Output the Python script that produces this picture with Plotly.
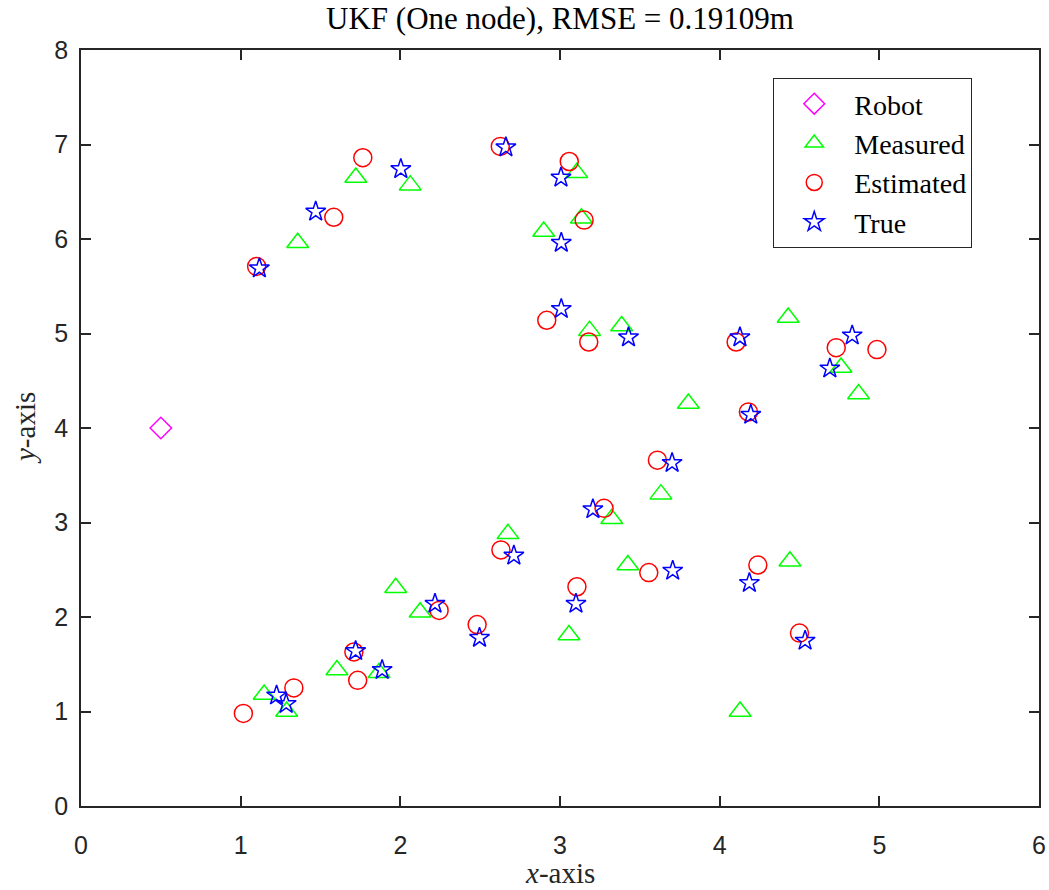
import plotly.graph_objects as go

robot_x = [0.5]
robot_y = [4.0]

true_x = [1.117, 1.470, 2.003, 2.661, 3.006, 3.008, 3.008, 3.429, 4.127, 4.830, 4.690, 4.195, 3.702,
          3.206, 2.711, 3.100, 3.706, 4.186, 4.535, 1.225, 1.285, 1.720, 1.886, 2.217, 2.496]
true_y = [5.69, 6.29, 6.74, 6.97, 6.65, 5.96, 5.26, 4.96, 4.96, 4.98, 4.63, 4.14, 3.63,
          3.14, 2.65, 2.14, 2.49, 2.36, 1.75, 1.17, 1.08, 1.64, 1.44, 2.14, 1.78]

meas_x = [1.357, 1.721, 2.062, 2.898, 3.105, 3.134, 3.185, 3.386, 4.429, 4.760, 4.870, 3.804, 3.632,
          3.324, 2.674, 3.056, 3.425, 4.440, 4.128, 1.147, 1.288, 1.603, 1.867, 1.971, 2.124]
meas_y = [5.96, 6.65, 6.57, 6.08, 6.70, 6.22, 5.03, 5.08, 5.17, 4.64, 4.36, 4.26, 3.30,
          3.04, 2.88, 1.81, 2.55, 2.59, 1.00, 1.18, 1.00, 1.44, 1.41, 2.31, 2.05]

est_x = [1.100, 1.583, 1.765, 2.626, 3.058, 3.151, 2.917, 3.180, 4.103, 4.730, 4.985, 4.180, 3.610,
         3.276, 2.630, 3.106, 3.556, 4.239, 4.500, 1.017, 1.333, 1.709, 1.733, 2.243, 2.481]
est_y = [5.71, 6.23, 6.86, 6.98, 6.82, 6.20, 5.14, 4.91, 4.91, 4.85, 4.83, 4.17, 3.66,
         3.15, 2.71, 2.32, 2.47, 2.55, 1.83, 0.98, 1.25, 1.63, 1.33, 2.07, 1.92]

x_ticks = [0, 1, 2, 3, 4, 5, 6]
y_ticks = [0, 1, 2, 3, 4, 5, 6, 7, 8]

title_text = "UKF (One node), RMSE = 0.19109m"
x_title = "<i>x</i>-axis"
y_title = "<i>y</i>-axis"

SERIF = "Liberation Serif, Times New Roman, serif"
SANS = "Liberation Sans, Arial, sans-serif"
AX = "#262626"

fig = go.Figure()
fig.add_trace(go.Scatter(x=robot_x, y=robot_y, mode="markers", name="Robot",
                         marker=dict(symbol="diamond-open", size=16.5, color="#FF00FF",
                                     line=dict(width=1.5, color="#FF00FF"))))
fig.add_trace(go.Scatter(x=meas_x, y=meas_y, mode="markers", name="Measured",
                         marker=dict(symbol="triangle-up-open", size=19, color="#00FF00",
                                     line=dict(width=1.5, color="#00FF00"))))
fig.add_trace(go.Scatter(x=est_x, y=est_y, mode="markers", name="Estimated",
                         marker=dict(symbol="circle-open", size=18, color="#FF0000",
                                     line=dict(width=1.5, color="#FF0000"))))
fig.add_trace(go.Scatter(x=true_x, y=true_y, mode="markers", name="True",
                         marker=dict(symbol="star-open", size=15, color="#0000FF",
                                     line=dict(width=1.5, color="#0000FF"))))

axis_common = dict(showline=True, linecolor=AX, linewidth=1.5, mirror="ticks",
                   ticks="inside", ticklen=10, tickwidth=1.5, tickcolor=AX,
                   showgrid=False, zeroline=False, automargin=False,
                   tickfont=dict(family=SANS, size=25, color=AX))

fig.update_layout(
    width=1049, height=890,
    margin=dict(l=81, r=10, t=50, b=84, autoexpand=False),
    paper_bgcolor="white", plot_bgcolor="white",
    title=dict(text=title_text, x=0.5, xref="paper", xanchor="center",
               y=1, yref="paper", yanchor="bottom", pad=dict(b=21),
               font=dict(family=SERIF, size=31, color="black")),
    xaxis=dict(range=[0, 6], tickvals=x_ticks, ticktext=[str(v) for v in x_ticks],
               ticklabelstandoff=16, **axis_common),
    yaxis=dict(range=[0, 8], tickvals=y_ticks, ticktext=[str(v) for v in y_ticks],
               ticklabelstandoff=6, **axis_common),
    legend=dict(x=0.7226, y=0.963, xanchor="left", yanchor="top",
                bgcolor="white", bordercolor=AX, borderwidth=1,
                font=dict(family=SERIF, size=28, color="black"),
                itemwidth=70, tracegroupgap=0),
    showlegend=True,
    annotations=[
        dict(text=x_title, xref="paper", yref="paper", x=0.5, y=0,
             xanchor="center", yanchor="middle", yshift=-67, showarrow=False,
             font=dict(family=SERIF, size=29, color=AX)),
        dict(text=y_title, xref="paper", yref="paper", x=0, y=0.5,
             xanchor="center", yanchor="middle", xshift=-56, textangle=-90,
             showarrow=False, font=dict(family=SERIF, size=29, color=AX)),
    ],
)

fig.write_html("out.html", config={"displayModeBar": False},
               post_script="document.body.style.margin='0';document.body.style.padding='0';")
